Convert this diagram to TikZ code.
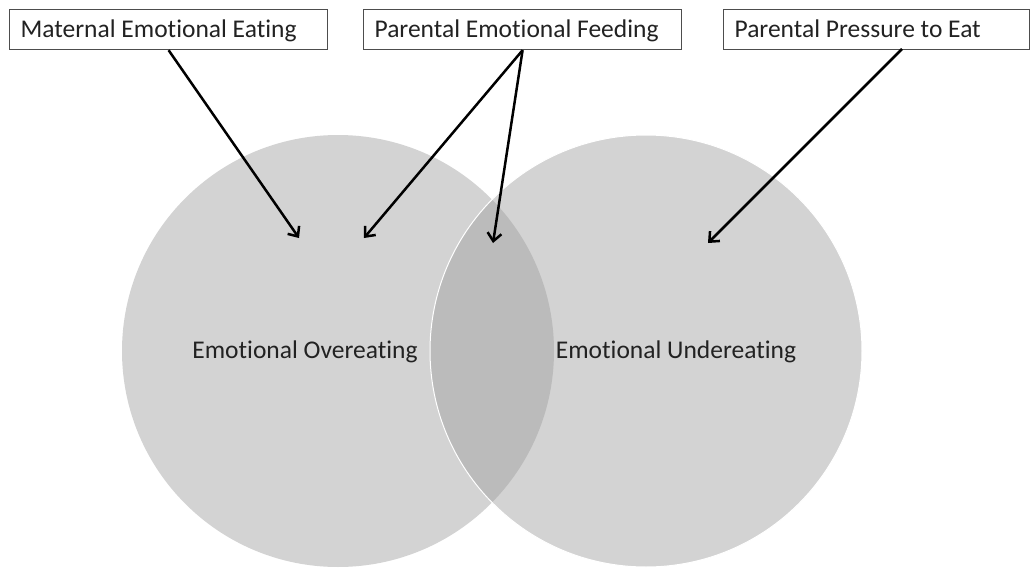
\documentclass[tikz,border=0pt]{standalone}
\usepackage{fontspec}
\setmainfont{Carlito}[Ligatures=NoCommon]
\usetikzlibrary{arrows.meta}

\definecolor{venngray}{HTML}{D3D3D3}
\definecolor{lensgray}{HTML}{BBBBBB}
\definecolor{boxline}{HTML}{4D4D4D}
\definecolor{labeltext}{HTML}{222222}

\tikzset{
  labelfont/.style={font=\fontsize{12.75pt}{15pt}\selectfont, text=labeltext},
  factor/.style={labelfont, draw=boxline, line width=0.6pt, anchor=north west,
    text width=148pt, align=flush left, text height=10pt, text depth=2pt,
    minimum height=20pt, inner xsep=5.5pt, inner ysep=0pt},
  outcome/.style={labelfont, inner sep=0pt},
  effect/.style={line width=1.25pt, black, -{Straight Barb[length=4pt,width=7pt]}}
}

\begin{document}
\begin{tikzpicture}[x=0.5pt,y=-0.5pt]

        \useasboundingbox (0,0) rectangle (1030,568);

        %Circles
        %left and right
        \fill[venngray] (338,351) circle (108pt);
        \fill[venngray] (646,351) circle (108pt);
        %overlap
        \begin{scope}
            \clip (338,351) circle (108pt);
            \fill[lensgray] (646,351) circle (108pt);
        \end{scope}
        \draw[white, line width=0.5pt] (646,351) circle (108pt);

        %Outcomes
        \node[outcome] (over) at (305,352) {Emotional Overeating};
        \node[outcome] (under) at (676,352) {Emotional Undereating};

        %Boxes
        \node[factor] (maternal) at (9,9) {Maternal Emotional Eating};
        \node[factor] (feeding) at (363,9) {Parental Emotional Feeding};
        \node[factor, text width=142pt] (pressure) at (723,9) {Parental Pressure to Eat};

        %Arrow ends
        \coordinate (tipA) at (299,238);
        \coordinate (tipB) at (364,238);
        \coordinate (tipC) at (493,243);
        \coordinate (tipD) at (708,243);
        \coordinate (pstart) at (902,49);

        %Edges
        \draw[effect] (maternal.south) -- (tipA);
        \draw[effect] (feeding.south) -- (tipB);
        \draw[effect] (feeding.south) -- (tipC);
        \draw[effect] (pstart) -- (tipD);

\end{tikzpicture}
\end{document}
